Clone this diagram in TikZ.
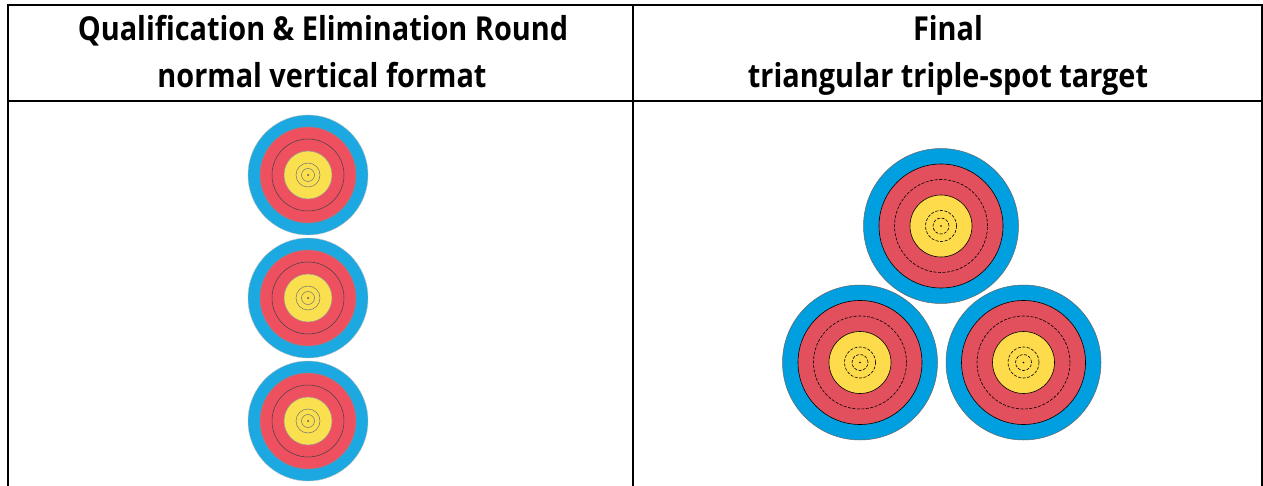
\documentclass[tikz,border=0pt]{standalone}
\usepackage{fontspec}
\setmainfont{Open Sans}
\definecolor{qblue}{RGB}{28,168,224}
\definecolor{qred}{RGB}{238,80,96}
\definecolor{qyellow}{RGB}{250,224,78}
\definecolor{fblue}{RGB}{0,159,223}
\definecolor{fred}{RGB}{225,80,92}
\definecolor{fyellow}{RGB}{254,219,74}
\tikzset{
  gridline/.style={line width=2pt, black},
  headtext/.style={font=\fontsize{33}{36}\selectfont\bfseries, anchor=base, inner sep=0pt, xscale=0.875},
  ringline/.style={line width=0.5pt, black!75},
  dashring/.style={line width=0.6pt, black, dash pattern=on 3pt off 1.5pt},
  qtarget/.pic={
    \fill[qblue] (0,0) circle (60pt);
    \draw[line width=0.4pt, black!25] (0,0) circle (60pt);
    \fill[qred] (0,0) circle (48pt);
    \draw[ringline, black!45] (0,0) circle (48pt);
    \draw[ringline] (0,0) circle (36pt);
    \fill[qyellow] (0,0) circle (24pt);
    \draw[ringline, black!40] (0,0) circle (24pt);
    \draw[ringline, black!55] (0,0) circle (12pt) (0,0) circle (6.5pt);
    \fill[black!70] (0,0) circle (1pt);
  },
  ftarget/.pic={
    \fill[fblue] (0,0) circle (77.5pt);
    \draw[line width=0.5pt, black!60] (0,0) circle (77.5pt);
    \fill[fred] (0,0) circle (62pt);
    \draw[line width=0.6pt, black] (0,0) circle (62pt);
    \draw[dashring] (0,0) circle (46.5pt);
    \fill[fyellow] (0,0) circle (31pt);
    \draw[line width=0.6pt, black] (0,0) circle (31pt);
    \draw[dashring] (0,0) circle (15.5pt);
    \draw[dashring] (0,0) circle (8pt);
    \fill[black] (0,0) circle (0.8pt);
  }
}
\begin{document}
\begin{tikzpicture}[x=1pt,y=-1pt]
  \useasboundingbox (0,0) rectangle (1263,486);
  \fill[white] (0,0) rectangle (1263,486);
  % table grid
  \draw[gridline] (7.5,486) -- (7.5,5) -- (1261.5,5) -- (1261.5,486);
  \draw[gridline] (7.5,101) -- (1261.5,101);
  \draw[gridline] (632.5,5) -- (632.5,486);
  % headers
  \node[headtext] (h1a) at (323,41) {Qualification \& Elimination Round};
  \node[headtext] (h1b) at (322,87.5) {normal vertical format};
  \node[headtext] (h2a) at (948,41) {Final};
  \node[headtext] (h2b) at (948,87.5) {triangular triple-spot target};
  % vertical format targets
  \pic at (308,175) {qtarget};
  \pic at (308,298) {qtarget};
  \pic at (308,421) {qtarget};
  % triangular triple-spot
  \pic at (941,226) {ftarget};
  \pic at (860,362.5) {ftarget};
  \pic at (1023.5,362.5) {ftarget};
\end{tikzpicture}
\end{document}
